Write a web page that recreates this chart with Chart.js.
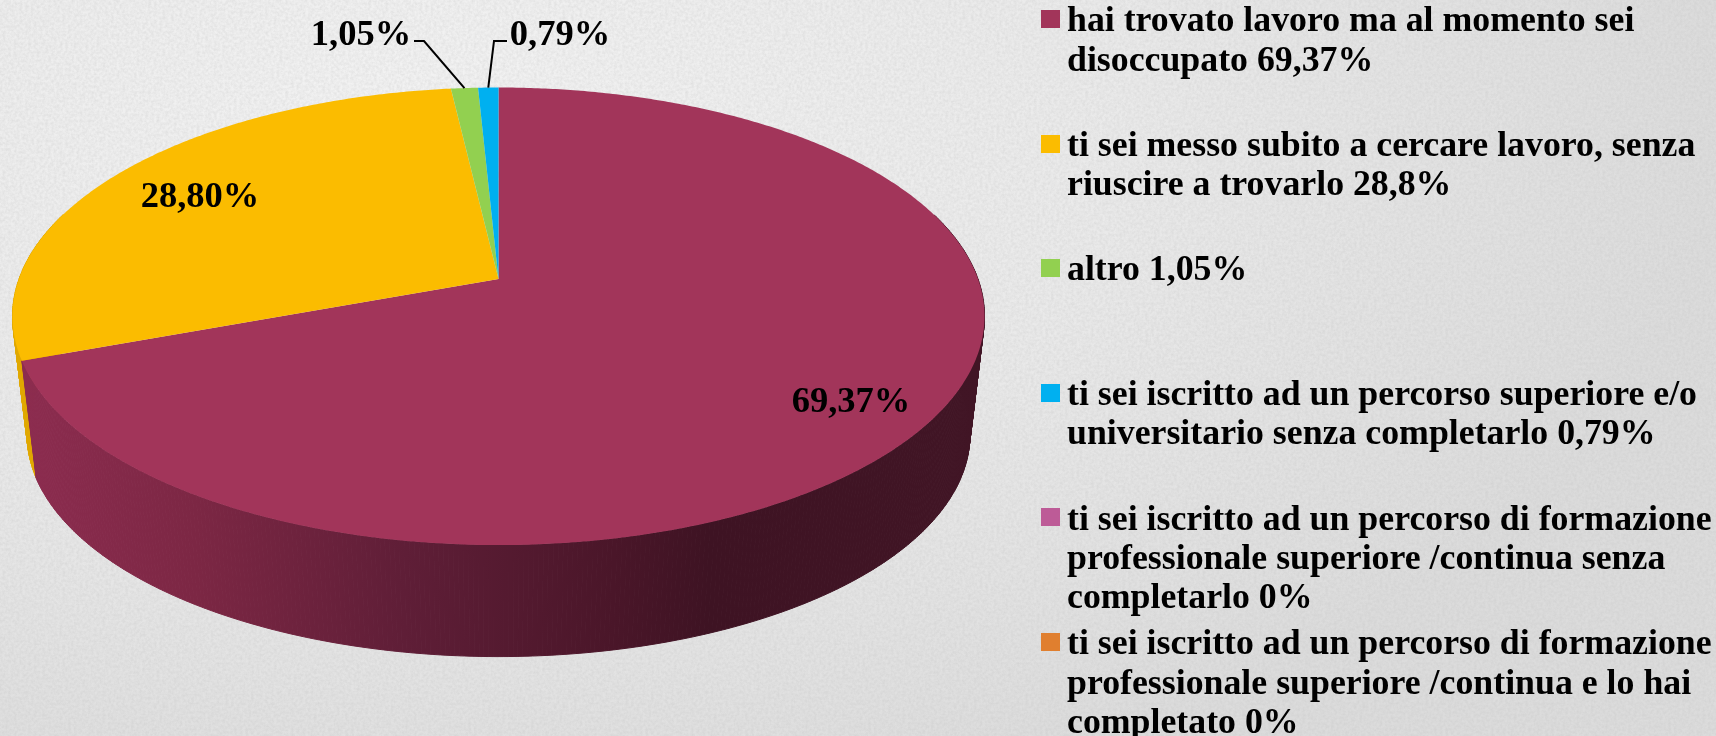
<!DOCTYPE html>
<html>
<head>
<meta charset="utf-8">
<script src="https://cdn.jsdelivr.net/npm/chart.js@4"></script>
<style>
    html, body { margin: 0; padding: 0; }
    body {
        width: 1716px;
        height: 736px;
        overflow: hidden;
        background:
            url("data:image/svg+xml,%3Csvg xmlns='http://www.w3.org/2000/svg' width='400' height='400'%3E%3Cfilter id='n'%3E%3CfeTurbulence type='fractalNoise' baseFrequency='0.35' numOctaves='3' seed='4'/%3E%3CfeColorMatrix values='0 0 0 0 0.5 0 0 0 0 0.5 0 0 0 0 0.5 0 0 0 0.45 -0.12'/%3E%3C/filter%3E%3Crect width='400' height='400' filter='url(%23n)'/%3E%3C/svg%3E"),
            radial-gradient(ellipse 1300px 720px at 420px 120px, #f3f3f3 0%, #eaeaea 55%, #dcdcdc 100%);
    }
    .chart { position: absolute; left: 0; top: 0; width: 1716px; height: 736px; }
</style>
</head>
<body>
<div class="chart"><canvas id="pie"></canvas></div>
<script>
//data
const categories = [
    ['hai trovato lavoro ma al momento sei', 'disoccupato 69,37%'],
    ['ti sei messo subito a cercare lavoro, senza', 'riuscire a trovarlo 28,8%'],
    ['altro 1,05%'],
    ['ti sei iscritto ad un percorso superiore e/o', 'universitario senza completarlo 0,79%'],
    ['ti sei iscritto ad un percorso di formazione', 'professionale superiore /continua senza', 'completarlo 0%'],
    ['ti sei iscritto ad un percorso di formazione', 'professionale superiore /continua e lo hai', 'completato 0%']
]
const values = [69.37, 28.80, 1.05, 0.79, 0, 0]
const valueLabels = ['69,37%', '28,80%', '1,05%', '0,79%']
const colors = ['#a2355a', '#fbbc00', '#92d050', '#00b0f0', '#bd5b97', '#e07f2f']

//look of the 3d disc
const font_name = '"Liberation Serif", serif'
const apex = { x: 498.5, y: 279 }
const tilt = { a: 479.5, h: 222.7, k: 0.163 }
const base = { y: 398.5, scale: 0.97 }
const wall_stops = [[0, '#8c2c4f'], [0.18, '#7c2744'], [0.4, '#5f1e37'], [0.62, '#4a1629'], [0.72, '#3e1323'], [1, '#411525']]
const wall_yellow = '#e0a800'

function project(angle, rho, layer) {
    const X = Math.cos(angle) * rho
    const Y = -Math.sin(angle) * rho
    const w = 1 + tilt.k * Y
    const s = layer ? base.scale : 1
    const y0 = layer ? base.y : apex.y
    return { x: apex.x + s * tilt.a * X / w, y: y0 - s * tilt.h * Y / w }
}

function drawWall(ctx, arc, color) {
    if (arc.endAngle - arc.startAngle <= 0) return
    const step = Math.PI / 360
    for (let a = arc.startAngle; a < arc.endAngle; a += step) {
        const b = Math.min(a + step, arc.endAngle)
        if (Math.sin(a) < -0.3 && Math.sin(b) < -0.3) continue
        const p1 = project(a, 1, 0), p2 = project(b, 1, 0)
        const p3 = project(b, 1, 1), p4 = project(a, 1, 1)
        ctx.beginPath()
        ctx.moveTo(p1.x, p1.y)
        ctx.lineTo(p2.x, p2.y)
        ctx.lineTo(p3.x, p3.y)
        ctx.lineTo(p4.x, p4.y)
        ctx.closePath()
        ctx.fillStyle = color
        ctx.strokeStyle = color
        ctx.lineWidth = 1
        ctx.fill()
        ctx.stroke()
    }
}

function drawTop(ctx, arc, color) {
    if (arc.endAngle - arc.startAngle <= 0) return
    ctx.beginPath()
    ctx.moveTo(apex.x, apex.y)
    const step = Math.PI / 360
    for (let a = arc.startAngle; a < arc.endAngle; a += step) {
        const p = project(a, 1, 0)
        ctx.lineTo(p.x, p.y)
    }
    const end = project(arc.endAngle, 1, 0)
    ctx.lineTo(end.x, end.y)
    ctx.closePath()
    ctx.fillStyle = color
    ctx.fill()
}

const disc3d = {
    id: 'disc3d',
    beforeDatasetDraw(chart, args) {
        const ctx = chart.ctx
        const arcs = args.meta.data
        const gradient = ctx.createLinearGradient(25, 0, 975, 0)
        wall_stops.forEach((stop) => gradient.addColorStop(stop[0], stop[1]))
        ctx.save()
        // yellow first, the big slice sits in front of it
        drawWall(ctx, arcs[1], wall_yellow)
        drawWall(ctx, arcs[0], gradient)
        arcs.forEach((arc, i) => drawTop(ctx, arc, colors[i]))
        ctx.restore()
        return false
    }
}

//value labels, with the two leader lines at the top
const label_spots = [[851, 403], [200, 198], [361, 36], [560, 36]]
const leader_spots = { 2: [[414, 41], [424, 41]], 3: [[507, 41], [494, 41]] }

const valueText = {
    id: 'valueText',
    afterDatasetsDraw(chart) {
        const ctx = chart.ctx
        const arcs = chart.getDatasetMeta(0).data
        ctx.save()
        ctx.fillStyle = '#000'
        ctx.strokeStyle = '#000'
        ctx.lineWidth = 2
        ctx.font = 'bold 36.5px ' + font_name
        ctx.textAlign = 'center'
        ctx.textBaseline = 'middle'
        valueLabels.forEach((text, i) => {
            ctx.fillText(text, label_spots[i][0], label_spots[i][1])
            if (leader_spots[i]) {
                const mid = project((arcs[i].startAngle + arcs[i].endAngle) / 2, 1, 0)
                ctx.beginPath()
                ctx.moveTo(leader_spots[i][0][0], leader_spots[i][0][1])
                ctx.lineTo(leader_spots[i][1][0], leader_spots[i][1][1])
                ctx.lineTo(mid.x, mid.y)
                ctx.stroke()
            }
        })
        ctx.restore()
    }
}

//legend on the right, every item starts about 125px under the one before
const legendBlock = {
    id: 'legendBlock',
    afterDraw(chart) {
        const ctx = chart.ctx
        ctx.save()
        ctx.font = 'bold 35.8px ' + font_name
        ctx.textAlign = 'left'
        ctx.textBaseline = 'middle'
        categories.forEach((lines, i) => {
            const y = 18 + i * 124.6
            ctx.fillStyle = colors[i]
            ctx.fillRect(1041, Math.round(y - 8), 19, 18)
            ctx.fillStyle = '#000'
            lines.forEach((line, l) => ctx.fillText(line, 1067, y + 4 + l * 39.3))
        })
        ctx.restore()
    }
}

new Chart(document.getElementById('pie'), {
    type: 'pie',
    data: {
        labels: categories.map((lines) => lines.join(' ')),
        datasets: [{ data: values, backgroundColor: colors, borderWidth: 0 }]
    },
    plugins: [disc3d, valueText, legendBlock],
    options: {
        animation: false,
        responsive: true,
        maintainAspectRatio: false,
        plugins: {
            legend: { display: false },
            tooltip: { enabled: false }
        }
    }
})
</script>
</body>
</html>
